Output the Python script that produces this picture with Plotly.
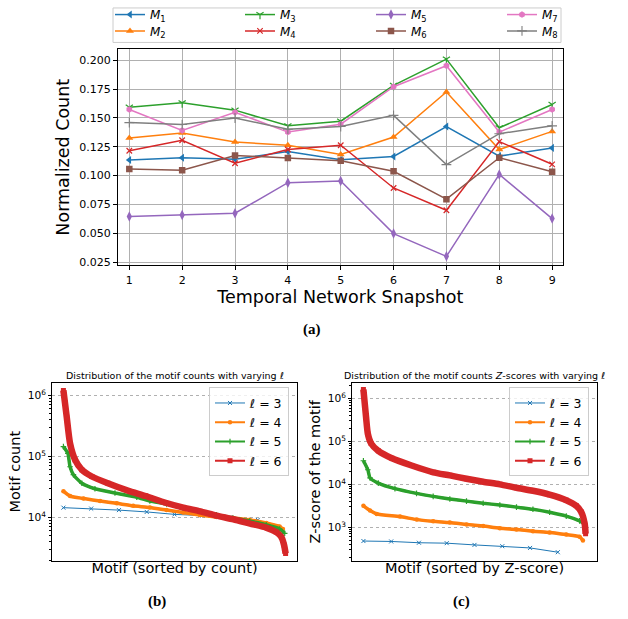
import plotly.graph_objects as go

W, H = 628, 619
FONT = "DejaVu Sans"


def fx(p):
    return p / W


def fy(p):
    return 1 - p / H


# ---------------- (a) data ----------------
snapshots = [1, 2, 3, 4, 5, 6, 7, 8, 9]
M1 = [0.1135, 0.1155, 0.1141, 0.1209, 0.1138, 0.1166, 0.1425, 0.1169, 0.1240]
M2 = [0.1326, 0.1368, 0.1291, 0.1263, 0.1183, 0.1334, 0.1724, 0.1226, 0.1383]
M3 = [0.1593, 0.1630, 0.1567, 0.1431, 0.1471, 0.1781, 0.2009, 0.1414, 0.1616]
M4 = [0.1215, 0.1306, 0.1107, 0.1226, 0.1263, 0.0893, 0.0700, 0.1294, 0.1098]
M5 = [0.0646, 0.0660, 0.0674, 0.0939, 0.0953, 0.0498, 0.0301, 0.1010, 0.0628]
M6 = [0.1058, 0.1047, 0.1175, 0.1152, 0.1129, 0.1038, 0.0796, 0.1155, 0.1033]
M7 = [0.1573, 0.1391, 0.1548, 0.1377, 0.1445, 0.1770, 0.1952, 0.1377, 0.1573]
M8 = [0.1459, 0.1442, 0.1499, 0.1402, 0.1425, 0.1522, 0.1095, 0.1363, 0.1431]
motif_labels = ["<i>M</i><sub>%d</sub>" % i for i in range(1, 9)]

# ---------------- (b) data: motif counts (rank fraction, count) ----------------
b_l3_rank = [0.0, 0.125, 0.25, 0.375, 0.5, 0.625, 0.75, 0.875]
b_l3_val = [14450, 13960, 13180, 12300, 11220, 10720, 10000, 9120]
b_l4_rank = [0.0, 0.030, 0.090, 0.165, 0.240, 0.314, 0.389, 0.464, 0.539, 0.614,
             0.689, 0.763, 0.838, 0.913, 0.973, 0.988]
b_l4_val = [26900, 22400, 20400, 18600, 17000, 15500, 14500, 13200, 12000, 11000,
            10200, 9770, 9120, 8130, 7080, 6460]
b_l5_rank = [0.0, 0.020, 0.030, 0.045, 0.083, 0.142, 0.232, 0.330, 0.389, 0.464,
             0.539, 0.614, 0.689, 0.763, 0.838, 0.913, 0.973, 0.996]
b_l5_val = [144500, 112200, 67600, 50100, 36300, 29500, 25100, 21400, 18600, 16600,
            14100, 12600, 11000, 9770, 8710, 7590, 6460, 5500]
b_l6_rank = [0.0, 0.015, 0.030, 0.053, 0.083, 0.128, 0.200, 0.290, 0.370, 0.460,
             0.540, 0.615, 0.690, 0.765, 0.840, 0.915, 0.958, 0.981, 0.993, 1.0]
b_l6_val = [1200000, 437000, 162000, 87000, 60300, 46800, 36300, 27500, 22400, 17400,
            14500, 12600, 10700, 9330, 7940, 6760, 5750, 4790, 3550, 2570]

# ---------------- (c) data: motif Z-scores (rank fraction, z-score) ----------------
c_l3_rank = [0.0, 0.125, 0.25, 0.375, 0.5, 0.625, 0.75, 0.875]
c_l3_val = [479, 468, 437, 427, 389, 363, 331, 263]
c_l4_rank = [0.0, 0.030, 0.060, 0.165, 0.240, 0.314, 0.389, 0.464, 0.539, 0.614,
             0.689, 0.763, 0.838, 0.913, 0.973, 0.988]
c_l4_val = [3160, 2450, 2040, 1780, 1510, 1380, 1290, 1170, 1070, 955,
            891, 813, 759, 676, 603, 490]
c_l5_rank = [0.0, 0.020, 0.030, 0.067, 0.142, 0.239, 0.314, 0.389, 0.464, 0.539,
             0.614, 0.689, 0.763, 0.838, 0.913, 0.973, 0.996]
c_l5_val = [35500, 21900, 14100, 10700, 7940, 6170, 5250, 4570, 4070, 3630,
            3310, 2950, 2630, 2240, 1820, 1410, 1200]
c_l6_rank = [0.0, 0.012, 0.020, 0.035, 0.067, 0.128, 0.217, 0.314, 0.389, 0.464,
             0.539, 0.614, 0.689, 0.763, 0.838, 0.913, 0.958, 0.981, 0.996, 1.0]
c_l6_val = [1620000, 363000, 151000, 89100, 60300, 40700, 27500, 19100, 16200, 13500,
            11500, 10000, 8320, 7080, 5750, 4270, 3160, 2240, 1200, 708]

ell_labels = ["<i>ℓ</i> = 3", "<i>ℓ</i> = 4", "<i>ℓ</i> = 5", "<i>ℓ</i> = 6"]

# ---------------- styles ----------------
C = ["#1f77b4", "#ff7f0e", "#2ca02c", "#d62728", "#9467bd", "#8c564b", "#e377c2", "#7f7f7f"]
top_markers = [
    dict(symbol="triangle-left", size=7),
    dict(symbol="triangle-up", size=7),
    dict(symbol="y-down-open", size=6, line=dict(width=1.2)),
    dict(symbol="x-thin-open", size=5.5, line=dict(width=1.2)),
    dict(symbol="diamond-tall", size=7.5),
    dict(symbol="square", size=6.5),
    dict(symbol="hexagon", size=6.5),
    dict(symbol="cross-thin-open", size=7, line=dict(width=1.1)),
]
# legend placement for each motif entry (left px, row-centre px)
top_leg_left = [110, 110, 240, 240, 371, 371, 502, 502]
top_leg_row = [9.7, 26.3, 9.7, 26.3, 9.7, 26.3, 9.7, 26.3]

fig = go.Figure()

series_a = [M1, M2, M3, M4, M5, M6, M7, M8]
for i, ys in enumerate(series_a):
    mk = dict(color=C[i], **top_markers[i])
    if "line" in mk:
        mk["line"] = dict(color=C[i], width=mk["line"]["width"])
    fig.add_trace(go.Scatter(
        x=snapshots, y=ys, mode="lines+markers", name=motif_labels[i],
        line=dict(color=C[i], width=1.5), marker=mk,
        xaxis="x", yaxis="y", legend="legend" if i == 0 else "legend%d" % (i + 1)))

thick_w = [0, 3.5, 3.5, 6.5]
legend_markers = [
    dict(symbol="x-thin-open", size=4, line=dict(color=C[0], width=1)),
    dict(symbol="circle", size=4.5, color=C[1]),
    dict(symbol="cross-thin-open", size=4, line=dict(color=C[2], width=1.2)),
    dict(symbol="square", size=5, color=C[3]),
]
b_sets = [(b_l3_rank, b_l3_val), (b_l4_rank, b_l4_val), (b_l5_rank, b_l5_val), (b_l6_rank, b_l6_val)]
c_sets = [(c_l3_rank, c_l3_val), (c_l4_rank, c_l4_val), (c_l5_rank, c_l5_val), (c_l6_rank, c_l6_val)]

for sets, xa, ya, lg in [(b_sets, "x2", "y2", "legend9"), (c_sets, "x3", "y3", "legend10")]:
    for i, (xr, yv) in enumerate(sets):
        col = C[i]
        mk = dict(legend_markers[i])
        mk.setdefault("color", col)
        if thick_w[i] > 0:
            # dense-marker band of the series
            fig.add_trace(go.Scatter(
                x=xr, y=yv, mode="lines", showlegend=False,
                line=dict(color=col, width=thick_w[i], shape="spline", smoothing=0.6),
                xaxis=xa, yaxis=ya, hoverinfo="skip"))
            fig.add_trace(go.Scatter(
                x=xr, y=yv, mode="lines+markers", name=ell_labels[i],
                line=dict(color=col, width=2.2, shape="spline", smoothing=0.6),
                marker=mk, xaxis=xa, yaxis=ya, legend=lg))
        else:
            fig.add_trace(go.Scatter(
                x=xr, y=yv, mode="lines+markers", name=ell_labels[i],
                line=dict(color=col, width=1),
                marker=mk, xaxis=xa, yaxis=ya, legend=lg))

axis_line = dict(showline=True, mirror=True, linecolor="black", linewidth=1,
                 zeroline=False, tickcolor="black")

legend_top_common = dict(orientation="v", yanchor="middle", xanchor="left",
                         bgcolor="rgba(0,0,0,0)", borderwidth=0,
                         font=dict(family=FONT, size=12, color="black"))
legend_bottom_common = dict(orientation="v", yanchor="top", xanchor="left",
                            bgcolor="rgba(255,255,255,0.8)", bordercolor="#cccccc", borderwidth=1,
                            font=dict(family=FONT, size=12.5, color="black"))

legends = {}
for i in range(8):
    key = "legend" if i == 0 else "legend%d" % (i + 1)
    legends[key] = dict(x=fx(top_leg_left[i]), y=fy(top_leg_row[i]), **legend_top_common)
legends["legend9"] = dict(x=fx(209), y=fy(388), **legend_bottom_common)
legends["legend10"] = dict(x=fx(509), y=fy(388), **legend_bottom_common)

fig.update_layout(
    width=W, height=H,
    margin=dict(l=0, r=0, t=0, b=0),
    paper_bgcolor="white", plot_bgcolor="white",
    font=dict(family=FONT, color="black"),
    xaxis=dict(domain=[fx(118), fx(562.7)], anchor="y", range=[0.786, 9.2],
               tickmode="array", tickvals=snapshots, ticks="outside", ticklen=4,
               showgrid=True, gridcolor="#b0b0b0", gridwidth=1,
               tickfont=dict(family=FONT, size=11, color="black"),
               title=dict(text="Temporal Network Snapshot", font=dict(size=17.5), standoff=3),
               **axis_line),
    yaxis=dict(domain=[fy(264.3), fy(44.7)], anchor="x", range=[0.0222, 0.2096],
               tick0=0.025, dtick=0.025, tickformat=".3f", ticks="outside", ticklen=4,
               showgrid=True, gridcolor="#b0b0b0", gridwidth=1,
               tickfont=dict(family=FONT, size=11, color="black"),
               title=dict(text="Normalized Count", font=dict(size=17.5), standoff=5),
               **axis_line),
    xaxis2=dict(domain=[fx(52.3), fx(296.7)], anchor="y2", range=[-0.05, 1.05],
                showticklabels=False, ticks="", showgrid=False,
                title=dict(text="Motif (sorted by count)", font=dict(size=14.5), standoff=2),
                **axis_line),
    yaxis2=dict(domain=[fy(564), fy(383.3)], anchor="x2", type="log", range=[3.29, 6.205],
                dtick=1, exponentformat="power", ticks="outside", ticklen=3.5,
                showgrid=True, gridcolor="#b0b0b0", gridwidth=0.8, griddash="dot",
                minor=dict(dtick="D1", ticks="outside", ticklen=2, tickcolor="black", showgrid=False),
                tickfont=dict(family=FONT, size=8.5, color="black"),
                title=dict(text="Motif count", font=dict(size=14.5), standoff=3),
                **axis_line),
    xaxis3=dict(domain=[fx(352.3), fx(596.7)], anchor="y3", range=[-0.05, 1.05],
                showticklabels=False, ticks="", showgrid=False,
                title=dict(text="Motif (sorted by Z-score)", font=dict(size=14.5), standoff=2),
                **axis_line),
    yaxis3=dict(domain=[fy(564), fy(383.3)], anchor="x3", type="log", range=[2.22, 6.367],
                dtick=1, exponentformat="power", ticks="outside", ticklen=3.5,
                showgrid=True, gridcolor="#b0b0b0", gridwidth=0.8, griddash="dot",
                minor=dict(dtick="D1", ticks="outside", ticklen=2, tickcolor="black", showgrid=False),
                tickfont=dict(family=FONT, size=8.5, color="black"),
                title=dict(text="Z-score of the motif", font=dict(size=14.5), standoff=3),
                **axis_line),
    shapes=[dict(type="rect", xref="paper", yref="paper",
                 x0=fx(113), x1=fx(561), y0=fy(38), y1=fy(3),
                 line=dict(color="#cccccc", width=1), fillcolor="rgba(255,255,255,0)", layer="below")],
    annotations=[
        dict(text="Distribution of the motif counts with varying <i>ℓ</i>", x=fx(174.5), y=fy(375.7),
             xref="paper", yref="paper", showarrow=False, xanchor="center", yanchor="middle",
             font=dict(family=FONT, size=9.5, color="black")),
        dict(text="Distribution of the motif counts <i>Z</i>-scores with varying <i>ℓ</i>", x=fx(474.5), y=fy(375.7),
             xref="paper", yref="paper", showarrow=False, xanchor="center", yanchor="middle",
             font=dict(family=FONT, size=9.5, color="black")),
        dict(text="<b>(a)</b>", x=fx(312), y=fy(329), xref="paper", yref="paper", showarrow=False,
             xanchor="center", yanchor="middle", font=dict(family="Liberation Serif", size=15, color="black")),
        dict(text="<b>(b)</b>", x=fx(157), y=fy(605), xref="paper", yref="paper", showarrow=False,
             xanchor="center", yanchor="middle", font=dict(family="Liberation Serif", size=15, color="black")),
        dict(text="<b>(c)</b>", x=fx(462), y=fy(605), xref="paper", yref="paper", showarrow=False,
             xanchor="center", yanchor="middle", font=dict(family="Liberation Serif", size=15, color="black")),
    ],
    **legends,
)

fig.write_html("out.html", config={"displayModeBar": False},
               post_script="document.body.style.margin='0px';document.body.style.overflow='hidden';")
